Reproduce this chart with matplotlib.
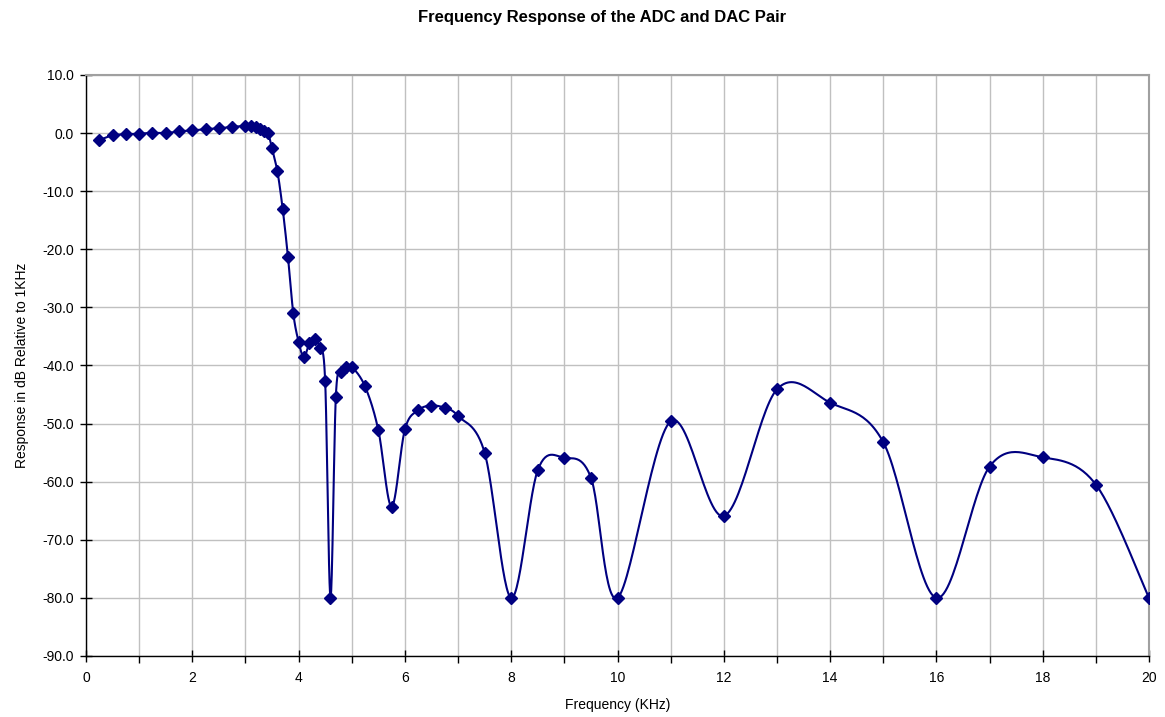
import numpy as np
import matplotlib
matplotlib.use('Agg')
import matplotlib.pyplot as plt
from matplotlib.ticker import MultipleLocator

plt.rcParams['font.family'] = ['Liberation Sans', 'DejaVu Sans']

# frequency (KHz) and response (dB relative to 1KHz)
freq = [0.25, 0.5, 0.75, 1.0, 1.25, 1.5, 1.75, 2.0, 2.25, 2.5, 2.75,
        3.0, 3.1, 3.2, 3.28, 3.35, 3.42, 3.5, 3.6, 3.7, 3.8, 3.9,
        4.0, 4.1, 4.2, 4.3, 4.4, 4.5, 4.6, 4.7, 4.8, 4.9, 5.0,
        5.25, 5.5, 5.75, 6.0, 6.25, 6.5, 6.75, 7.0, 7.5,
        8, 8.5, 9, 9.5, 10, 11, 12, 13, 14, 15, 16, 17, 18, 19, 20]
resp = [-1.2, -0.4, -0.2, -0.1, 0.05, 0.0, 0.3, 0.45, 0.7, 0.8, 1.1,
        1.2, 1.15, 1.0, 0.7, 0.4, 0.1, -2.6, -6.5, -13.0, -21.3, -31.0,
        -35.9, -38.6, -36.2, -35.5, -37.0, -42.7, -80.0, -45.5, -41.2, -40.2, -40.2,
        -43.6, -51.1, -64.3, -51.0, -47.7, -46.9, -47.3, -48.7, -55.0,
        -80.0, -58.0, -55.9, -59.3, -80.0, -49.6, -65.9, -44.1, -46.4, -53.2,
        -80.0, -57.4, -55.8, -60.5, -80.0]


def smooth(x, y, n=30):
    # excel-like smoothed line (catmull-rom as bezier)
    p = np.column_stack([x, y]).astype(float)
    xs, ys = [], []
    t = np.linspace(0, 1, n)[:, None]
    for i in range(len(p) - 1):
        p0 = p[i - 1] if i > 0 else p[i]
        p1 = p[i]
        p2 = p[i + 1]
        p3 = p[i + 2] if i + 2 < len(p) else p[i + 1]
        c1 = p1 + (p2 - p0) / 6
        c2 = p2 - (p3 - p1) / 6
        b = (1 - t)**3 * p1 + 3 * (1 - t)**2 * t * c1 + 3 * (1 - t) * t**2 * c2 + t**3 * p2
        xs.extend(b[:, 0])
        ys.extend(b[:, 1])
    return xs, ys


fig = plt.figure(figsize=(11.65, 7.17), dpi=100)
ax = fig.add_axes([0.0738, 0.0851, 0.9125, 0.8103])

sx, sy = smooth(freq, resp)
ax.plot(sx, sy, color='#000080', lw=1.5, zorder=3)
ax.plot(freq, resp, ls='none', marker='D', ms=6, color='#000080', zorder=4)

ax.set_xlim(0, 20)
ax.set_ylim(-90, 10)
ax.xaxis.set_major_locator(MultipleLocator(2))
ax.xaxis.set_minor_locator(MultipleLocator(1))
ax.yaxis.set_major_locator(MultipleLocator(10))
ax.yaxis.set_major_formatter(matplotlib.ticker.FormatStrFormatter('%.1f'))

ax.grid(True, which='both', axis='x', color='#c0c0c0', lw=1)
ax.grid(True, which='major', axis='y', color='#c0c0c0', lw=1)
ax.set_axisbelow(True)

for s in ['top', 'right']:
    ax.spines[s].set_color('#a0a0a0')
    ax.spines[s].set_linewidth(1.5)
for s in ['left', 'bottom']:
    ax.spines[s].set_color('black')
    ax.spines[s].set_linewidth(1)

ax.tick_params(axis='both', which='major', direction='inout', length=9, width=1, labelsize=10)
ax.tick_params(axis='x', which='minor', direction='out', length=5, width=1)
ax.tick_params(axis='x', pad=6)
ax.tick_params(axis='y', pad=4)

ax.set_xlabel('Frequency (KHz)', fontsize=10, labelpad=10)
ax.set_ylabel('Response in dB Relative to 1KHz', fontsize=10, labelpad=10)
fig.text(0.517, 0.975, 'Frequency Response of the ADC and DAC Pair', ha='center', va='center',
         fontsize=12, fontweight='bold')

plt.savefig('out.png', dpi=100)
